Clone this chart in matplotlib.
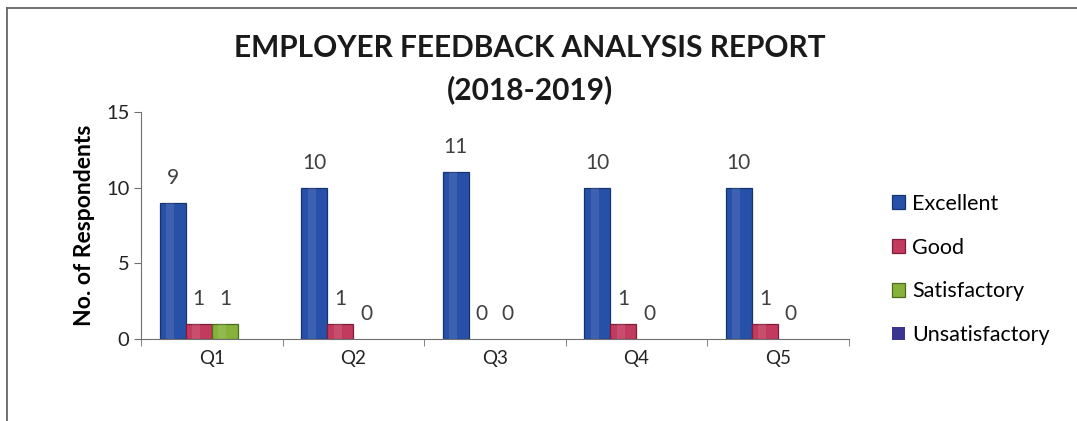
import numpy as np
import matplotlib.pyplot as plt
from matplotlib.lines import Line2D

plt.rcParams['font.family'] = ['Lato', 'DejaVu Sans']

questions = ['Q1', 'Q2', 'Q3', 'Q4', 'Q5']
excellent = [9, 10, 11, 10, 10]
good = [1, 1, 0, 1, 1]
satisfactory = [1, 0, 0, 0, 0]
unsatisfactory = [0, 0, 0, 0, 0]

series = [
    ('Excellent', excellent, '#2750a8', '#16336f', True),
    ('Good', good, '#c23a5e', '#7d1f39', True),
    ('Satisfactory', satisfactory, '#86b23a', '#4d6b1c', True),
    ('Unsatisfactory', unsatisfactory, '#3b3590', '#221e5c', False),
]

fig = plt.figure(figsize=(10.77, 4.21), dpi=100)
ax = fig.add_axes([0.131, 0.195, 0.657, 0.539])

x = np.arange(len(questions))
w = 0.184
for i, (name, vals, col, edge, labelled) in enumerate(series):
    pos = x + (i - 1.5) * w
    # no outline on empty bars so nothing sits on the axis line
    lw = [0.9 if v > 0 else 0 for v in vals]
    ax.bar(pos, vals, w, color=col, edgecolor=edge, linewidth=lw, label=name)
    # lighter strip for a bit of shading
    ax.bar(pos - w * 0.1, vals, w * 0.3, color='white', alpha=0.1, linewidth=0)
    if labelled:
        for xp, v in zip(pos, vals):
            ax.annotate(str(v), (xp, v), xytext=(0, 18), textcoords='offset points',
                        ha='center', va='center', fontsize=15, color='#404040')

ax.set_xlim(-0.5, 4.5)
ax.set_ylim(0, 15)
ax.set_yticks([0, 5, 10, 15])
ax.set_xticks(x)
ax.set_xticklabels(questions)
ax.set_xticks(np.arange(-0.5, 5, 1), minor=True)
ax.tick_params(axis='x', which='major', length=0, labelsize=13.5, pad=8, colors='#222222')
ax.tick_params(axis='x', which='minor', length=5, color='#707070')
ax.tick_params(axis='y', length=5, color='#707070', labelsize=14.5, labelcolor='#222222')
for s in ['top', 'right']:
    ax.spines[s].set_visible(False)
for s in ['left', 'bottom']:
    ax.spines[s].set_color('#707070')

ax.set_ylabel('No. of Respondents', fontsize=16.5, fontweight='bold', labelpad=8)
fig.text(0.492, 0.885, 'EMPLOYER FEEDBACK ANALYSIS REPORT', ha='center', va='center',
         fontsize=21.5, fontweight='bold', color='#1a1a1a')
fig.text(0.492, 0.787, '(2018-2019)', ha='center', va='center',
         fontsize=21.5, fontweight='bold', color='#1a1a1a')

handles, labels = ax.get_legend_handles_labels()
fig.legend(handles[:4], labels[:4], loc='center left', bbox_to_anchor=(0.81, 0.36),
           frameon=False, fontsize=15.5, handlelength=0.6, handleheight=0.6,
           labelspacing=1.1, handletextpad=0.35)

# chart border: top and left edges
fig.add_artist(Line2D([0.0065, 1.0], [0.981, 0.981], transform=fig.transFigure,
                      color='#666666', linewidth=1.3))
fig.add_artist(Line2D([0.0065, 0.0065], [0.0, 0.981], transform=fig.transFigure,
                      color='#666666', linewidth=1.3))

fig.savefig('out.png', dpi=100)
